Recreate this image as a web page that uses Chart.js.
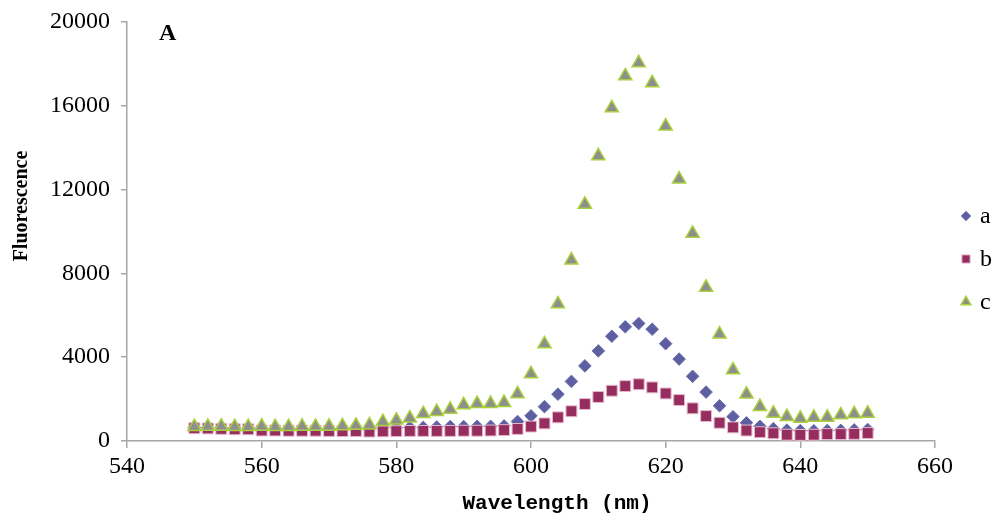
<!DOCTYPE html>
<html>
<head>
<meta charset="utf-8">
<script src="https://cdn.jsdelivr.net/npm/chart.js@4/dist/chart.umd.min.js"></script>
<style>
  html, body { margin: 0; padding: 0; background: #fff; }
  #wrap { width: 1000px; height: 515px; position: relative; }
</style>
</head>
<body>
<div id="wrap"><canvas id="c" width="1000" height="515"></canvas></div>
<script>
const wavelengths = [550,552,554,556,558,560,562,564,566,568,570,572,574,576,578,580,582,584,586,588,590,592,594,596,598,600,602,604,606,608,610,612,614,616,618,620,622,624,626,628,630,632,634,636,638,640,642,644,646,648,650];
const seriesA = [640,640,630,620,620,610,610,600,600,600,600,600,610,620,630,640,640,650,670,690,690,700,700,720,930,1200,1640,2235,2845,3585,4300,5000,5450,5610,5335,4645,3910,3085,2335,1680,1160,870,700,590,520,500,490,500,510,530,550];
const seriesB = [610,600,580,560,560,500,500,490,490,490,480,470,470,450,460,470,480,480,480,480,490,490,500,520,575,690,840,1130,1420,1765,2100,2400,2620,2710,2560,2270,1955,1560,1190,870,650,500,420,370,300,290,300,330,330,340,380];
const seriesC = [680,690,700,680,680,700,680,680,700,690,700,720,740,760,920,990,1090,1300,1400,1510,1720,1780,1780,1830,2250,3200,4630,6540,8630,11290,13610,15900,17420,18050,17090,15030,12500,9910,7330,5100,3390,2230,1640,1320,1160,1080,1130,1130,1240,1290,1320];
const seriesNames = ['a','b','c'];
const xTicks = [540,560,580,600,620,640,660];
const yTicks = [0,4000,8000,12000,16000,20000];

const toXY = (vals) => wavelengths.map((w, i) => ({x: w, y: vals[i]}));

const styles = [
  {pointStyle: 'rectRot', radius: 6.3, bg: '#5E5FA0', border: '#6E70B0', bw: 1},
  {pointStyle: 'rect', radius: 7.7, bg: '#962D5F', border: '#E6B8CC', bw: 1},
  {pointStyle: 'triangle', radius: 7.6, bg: '#8E8E8E', border: '#A9D13E', bw: 1.5}
];

const axisColor = '#A6A6A6';
const serif = '"Liberation Serif", "Times New Roman", serif';

const extras = {
  id: 'extras',
  afterDraw(chart) {
    const ctx = chart.ctx;
    ctx.save();
    ctx.fillStyle = '#000';
    ctx.font = 'bold 24px ' + serif;
    ctx.textAlign = 'left';
    ctx.textBaseline = 'alphabetic';
    ctx.fillText('A', 159, 40);
    ctx.save();
    ctx.translate(27, 206);
    ctx.rotate(-Math.PI / 2);
    ctx.font = 'bold 20px ' + serif;
    ctx.textAlign = 'center';
    ctx.fillText('Fluorescence', 0, 0);
    ctx.restore();
    ctx.font = 'bold 21px "Liberation Mono", monospace';
    ctx.textAlign = 'center';
    ctx.fillText('Wavelength (nm)', 557, 509);
    const ys = [216, 259, 302];
    const h = Chart.helpers;
    seriesNames.forEach((n, i) => {
      const s = styles[i];
      ctx.fillStyle = s.bg;
      ctx.strokeStyle = s.border;
      ctx.lineWidth = s.bw;
      if (h && h.drawPoint) {
        h.drawPoint(ctx, {pointStyle: s.pointStyle, radius: s.radius * 0.75, borderWidth: s.bw, rotation: 0}, 966, ys[i]);
      }
      ctx.fillStyle = '#000';
      ctx.font = '24px ' + serif;
      ctx.textAlign = 'left';
      ctx.textBaseline = 'middle';
      ctx.fillText(n, 980, ys[i] + 1);
    });
    ctx.restore();
  }
};

new Chart(document.getElementById('c'), {
  type: 'scatter',
  data: {
    datasets: [seriesA, seriesB, seriesC].map((vals, i) => ({
      label: seriesNames[i],
      data: toXY(vals),
      pointStyle: styles[i].pointStyle,
      pointRadius: styles[i].radius,
      pointHoverRadius: styles[i].radius,
      backgroundColor: styles[i].bg,
      borderColor: styles[i].border,
      borderWidth: styles[i].bw,
      order: 3 - i,
      showLine: false
    }))
  },
  options: {
    responsive: false,
    animation: false,
    events: [],
    layout: { padding: { top: 22, right: 65, left: 0, bottom: 0 } },
    plugins: { legend: { display: false }, tooltip: { enabled: false } },
    scales: {
      x: {
        type: 'linear', min: 540, max: 660,
        afterBuildTicks: (s) => { s.ticks = xTicks.map(v => ({value: v})); },
        afterFit: (s) => { s.height = 74; s.paddingLeft = 0; s.paddingRight = 0; },
        ticks: { color: '#000', font: { family: serif, size: 24 }, padding: 4, maxRotation: 0, callback: (v) => String(v) },
        grid: { drawOnChartArea: false, drawTicks: true, tickLength: 7, color: axisColor, lineWidth: 1.5 },
        border: { color: axisColor, width: 1.5 }
      },
      y: {
        min: 0, max: 20000,
        afterBuildTicks: (s) => { s.ticks = yTicks.map(v => ({value: v})); },
        afterFit: (s) => { s.width = 127; s.paddingTop = 0; s.paddingBottom = 0; },
        ticks: { color: '#000', font: { family: serif, size: 24 }, padding: 11, callback: (v) => String(v) },
        grid: { drawOnChartArea: false, drawTicks: true, tickLength: 6, color: axisColor, lineWidth: 1.5 },
        border: { color: axisColor, width: 1.5 }
      }
    }
  },
  plugins: [extras]
});
</script>
</body>
</html>
